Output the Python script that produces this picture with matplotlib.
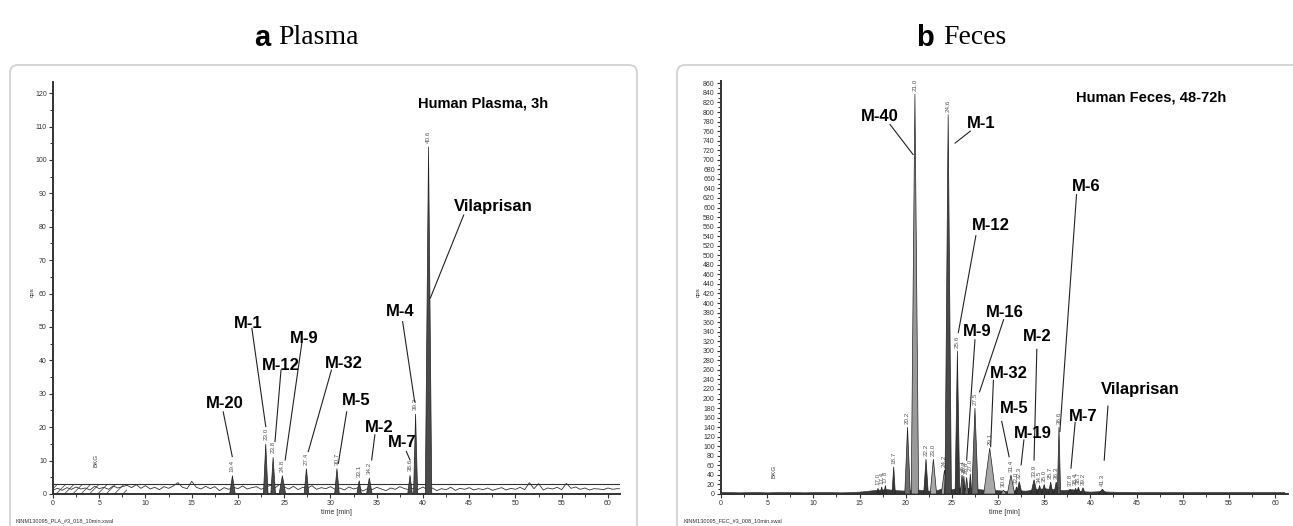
import numpy as np
from matplotlib import pyplot as plt
from matplotlib.patches import FancyBboxPatch
from matplotlib.transforms import IdentityTransform

plt.rcParams['font.family'] = ['Liberation Sans', 'DejaVu Sans']
plt.rcParams['hatch.linewidth'] = 0.6

# ---- panel a: plasma, peaks ----
plasma_rt = [19.4, 23.0, 23.8, 24.8, 27.4, 30.7, 33.1, 34.2, 38.6, 39.2, 40.6]
plasma_height = [5.5, 15.0, 11.0, 5.5, 7.6, 7.6, 4.0, 4.8, 5.6, 24.0, 104.0]
plasma_halfwidth = [0.30, 0.25, 0.25, 0.35, 0.25, 0.25, 0.25, 0.30, 0.25, 0.22, 0.35]

# noisy baseline, one value every 0.5 min
plasma_noise = [1.2, 1.7, 1.1, 1.9, 1.4, 2.1, 1.5, 1.8, 1.2, 2.3, 1.6, 2.0, 1.4, 2.4, 1.8, 2.2, 2.6,
                1.9, 2.8, 1.7, 2.5, 1.5, 2.0, 1.3, 2.2, 1.7, 2.4, 3.4, 2.0, 1.6, 3.8, 2.0, 1.5, 2.3,
                1.6, 2.2, 1.0, 1.9, 1.4, 2.0,
                1.6, 2.4, 1.5, 1.9, 2.2, 1.4, 2.0, 2.6, 1.8, 2.9, 2.1, 1.5, 2.3, 1.3, 2.0, 1.7, 2.5,
                1.4, 1.9,
                1.6, 2.2, 1.4, 1.8, 1.2, 2.1, 1.5, 1.9, 0.9, 1.6, 1.3, 2.0, 1.5, 1.0, 1.8, 1.4, 2.2,
                1.6, 1.3,
                1.7, 1.4, 2.1, 1.2, 1.8, 1.0, 1.6, 1.3, 2.0, 1.1, 1.7, 1.4, 1.9, 1.2, 1.6, 1.3, 1.8,
                1.1, 1.5,
                1.9, 1.2, 1.7, 1.4, 2.0, 1.3, 3.4, 1.6, 3.1, 1.2, 1.8, 1.5, 2.0, 1.3, 3.2, 1.7, 2.1,
                1.4, 1.8, 1.2, 1.6, 1.5, 1.3, 1.8, 1.4, 1.6, 1.5]
noise_step = 0.5

plasma_labels = ['M-20', 'M-1', 'M-12', 'M-9', 'M-32', 'M-5', 'M-2', 'M-7', 'M-4', 'Vilaprisan']
plasma_text_xy = [(18.6, 27.2), (21.1, 51.1), (24.65, 38.6), (27.2, 46.6), (31.4, 39.1),
                  (32.8, 28.1), (35.3, 20.0), (37.8, 15.4), (37.5, 54.6), (47.6, 86.0)]
plasma_line_from = [(18.4, 24.6), (21.5, 49.6), (24.65, 37.1), (26.9, 45.1), (30.1, 37.1),
                    (31.75, 24.6), (34.8, 17.7), (38.2, 12.7), (37.8, 51.6), (44.4, 83.5)]
plasma_line_to = [(19.38, 11.2), (23.0, 20.2), (24.0, 15.7), (25.1, 10.2), (27.6, 12.7),
                  (30.85, 9.2), (34.45, 10.2), (38.6, 10.2), (39.1, 27.6), (40.8, 58.7)]

# ---- panel b: feces ----
feces_rt = [17.0, 17.4, 17.8, 18.7, 20.2, 21.0, 22.2, 23.0, 24.2, 24.4, 24.6, 25.6, 26.1, 26.3,
            26.6, 27.0, 27.5, 29.1, 30.6, 31.4, 32.0, 32.3, 33.9, 34.5, 35.0, 35.7, 36.3, 36.6,
            37.8, 38.4, 38.7, 39.2, 41.3]
feces_height = [12, 15, 18, 57, 140, 838, 73, 73, 50, 80, 795, 300, 40, 38,
                35, 42, 180, 96, 8, 40, 15, 26, 30, 18, 20, 25, 25, 140,
                10, 12, 14, 13, 10]
feces_halfwidth = [0.15, 0.15, 0.15, 0.18, 0.3, 0.4, 0.25, 0.35, 0.35, 0.2, 0.35, 0.25, 0.2, 0.15,
                   0.2, 0.15, 0.35, 0.65, 0.3, 0.4, 0.2, 0.3, 0.35, 0.25, 0.25, 0.25, 0.25, 0.18,
                   0.25, 0.25, 0.25, 0.25, 0.45]
feces_shade = ['#3a3a3a', '#3a3a3a', '#3a3a3a', '#3a3a3a', '#6e6e6e', '#9a9a9a', '#3a3a3a',
               '#a8a8a8', '#a8a8a8', '#6e6e6e', '#4a4a4a', '#3a3a3a', '#6e6e6e', '#3a3a3a',
               '#6e6e6e', '#3a3a3a', '#6e6e6e', '#a8a8a8', '#a8a8a8', '#a8a8a8', '#3a3a3a',
               '#3a3a3a', '#3a3a3a', '#3a3a3a', '#3a3a3a', '#3a3a3a', '#3a3a3a', '#5a5a5a',
               '#3a3a3a', '#3a3a3a', '#3a3a3a', '#3a3a3a', '#3a3a3a']
feces_peak_text = ['17.0', '17.4', '17.8', '18.7', '20.2', '21.0', '22.2', '23.0', '24.2', '',
                   '24.6', '25.6', '26.1', '26.3', '26.6', '27.0', '27.5', '29.1', '30.6', '31.4',
                   '32.0', '32.3', '33.9', '34.5', '35.0', '35.7', '36.3', '36.6', '37.8', '38.4',
                   '38.7', '39.2', '41.3']

# background trace, one value per minute
feces_base = [4, 4, 3.5, 4, 4, 3.5, 4, 4, 4, 3.5, 4, 4, 4, 3.5, 4, 5, 7, 9, 10, 8, 7, 10, 8, 6,
              12, 10, 14, 12, 10, 8, 8, 6, 8, 7, 10, 12, 10, 8, 10, 6, 5, 6, 5, 4.5, 4.5, 4, 4, 4,
              4, 4, 4, 4, 4, 4, 4, 4, 4, 4, 4, 4, 4, 4]

feces_labels = ['M-40', 'M-1', 'M-12', 'M-9', 'M-16', 'M-32', 'M-5', 'M-19', 'M-2', 'M-6',
                'M-7', 'Vilaprisan']
feces_text_xy = [(17.15, 790), (28.2, 776), (29.25, 563), (27.7, 340), (30.7, 380), (31.2, 253),
                 (31.8, 180), (33.8, 127), (34.2, 330), (39.5, 644), (39.2, 163), (45.4, 219)]
feces_line_from = [(18.3, 774), (27.0, 760), (27.6, 541), (27.5, 323), (30.6, 365), (29.5, 238),
                   (30.4, 152), (32.8, 113), (34.2, 303), (38.5, 627), (38.35, 150), (41.9, 184)]
feces_line_to = [(20.8, 711), (25.35, 735), (25.7, 338), (26.6, 71), (28.0, 214), (29.2, 99),
                 (31.2, 78), (32.5, 61), (33.9, 71), (36.7, 131), (37.9, 54), (41.5, 71)]


fig = plt.figure(figsize=(12.93, 5.26), dpi=100)

# rounded grey panel frames (pixel coordinates), kept behind the axes
for x0, w in [(10, 627), (677, 640)]:
    box = FancyBboxPatch((x0, -20), w, 526 - 65 + 20,
                         boxstyle='round,pad=0,rounding_size=8',
                         transform=IdentityTransform(), fc='white', ec='#d2d2d2', lw=1.3,
                         zorder=-10)
    fig.add_artist(box)

# panel titles
fig.text(270 / 1293, 1 - 38 / 526, 'a', ha='right', va='center', fontsize=21,
         fontweight='bold', family='Liberation Sans')
fig.text(278 / 1293, 1 - 38 / 526, 'Plasma', ha='left', va='center', fontsize=20,
         family='Liberation Serif')
fig.text(934 / 1293, 1 - 38 / 526, 'b', ha='right', va='center', fontsize=21,
         fontweight='bold', family='Liberation Sans')
fig.text(943 / 1293, 1 - 38 / 526, 'Feces', ha='left', va='center', fontsize=20,
         family='Liberation Serif')

axL = fig.add_axes([53 / 1293, 32 / 526, 567 / 1293, 412.5 / 526])
axR = fig.add_axes([721 / 1293, 32 / 526, 567 / 1293, 413 / 526])


def style_axis(ax, xmax, ymax, ymajor, yminor):
    ax.set_xlim(0, xmax)
    ax.set_ylim(0, ymax)
    for s in ['top', 'right']:
        ax.spines[s].set_visible(False)
    for s in ['left', 'bottom']:
        ax.spines[s].set_linewidth(1.4)
        ax.spines[s].set_color('#333333')
    ax.set_xticks(np.arange(0, 61, 5))
    ax.set_xticks(np.arange(0, 61.5, 2.5), minor=True)
    ax.set_yticks(np.arange(0, ymax, ymajor))
    ax.set_yticks(np.arange(0, ymax, yminor), minor=True)
    ax.tick_params(which='major', length=3, width=0.8, labelsize=5, colors='#333333', pad=1.5)
    ax.tick_params(which='minor', length=2, width=0.7, colors='#333333')
    ax.set_xlabel('time [min]', fontsize=5, color='#333333', labelpad=1)
    ax.patch.set_alpha(0)


# --- plot panel a ---
style_axis(axL, 61.3, 123.5, 10, 5)
noise_t = np.arange(len(plasma_noise)) * noise_step
axL.plot(noise_t, plasma_noise, color='#333333', lw=0.6, zorder=2)
axL.fill_between([0, 8], 0, 3, facecolor='none', edgecolor='#555555', hatch='////', lw=0)
axL.axhline(3, color='#333333', lw=0.8, zorder=2)
axL.text(4.7, 10, 'BKG', rotation=90, fontsize=4.5, ha='center', va='center', color='#333333')
for rt, h, w in zip(plasma_rt, plasma_height, plasma_halfwidth):
    axL.fill([rt - w, rt, rt + w], [0, h, 0], facecolor='#4a4a4a', edgecolor='#222222',
             lw=0.5, zorder=3)
    axL.text(rt, h + 1.2, f'{rt:.1f}', rotation=90, ha='center', va='bottom', fontsize=4.5,
             color='#555555')
axL.text(-0.037, 0.49, 'cps', rotation=90, fontsize=4.5, ha='center', va='center',
         color='#333333', transform=axL.transAxes)
axL.text(46.5, 117, 'Human Plasma, 3h', fontsize=10.5, fontweight='bold', ha='center',
         va='center')
for lab, txy, p0, p1 in zip(plasma_labels, plasma_text_xy, plasma_line_from, plasma_line_to):
    axL.text(txy[0], txy[1], lab, fontsize=12, fontweight='bold', ha='center', va='center',
             zorder=5)
    axL.plot([p0[0], p1[0]], [p0[1], p1[1]], color='#222222', lw=0.8, zorder=4)

# --- plot panel b ---
style_axis(axR, 61.4, 865, 20, 10)
base_t = np.arange(len(feces_base))
axR.fill_between(base_t, 0, feces_base, color='#3a3a3a', lw=0.5, zorder=2)
axR.text(5.7, 47, 'BKG', rotation=90, fontsize=4.5, ha='center', va='center', color='#333333')
for rt, h, w, c, lab in zip(feces_rt, feces_height, feces_halfwidth, feces_shade,
                            feces_peak_text):
    axR.fill([rt - w, rt, rt + w], [0, h, 0], facecolor=c, edgecolor='#222222', lw=0.5,
             zorder=3)
    if lab:
        axR.text(rt, h + 6, lab, rotation=90, ha='center', va='bottom', fontsize=4.5,
                 color='#555555')
axR.text(-0.04, 0.49, 'cps', rotation=90, fontsize=4.5, ha='center', va='center',
         color='#333333', transform=axR.transAxes)
axR.text(46.6, 830, 'Human Feces, 48-72h', fontsize=10.5, fontweight='bold', ha='center',
         va='center')
for lab, txy, p0, p1 in zip(feces_labels, feces_text_xy, feces_line_from, feces_line_to):
    axR.text(txy[0], txy[1], lab, fontsize=12, fontweight='bold', ha='center', va='center',
             zorder=5)
    axR.plot([p0[0], p1[0]], [p0[1], p1[1]], color='#222222', lw=0.8, zorder=4)

# file names under the traces
fig.text(15 / 1293, 4 / 526, 'KINM130095_PLA_#3_018_10min.xwal', fontsize=4,
         color='#333333')
fig.text(683 / 1293, 4 / 526, 'KINM130095_FEC_#3_008_10min.xwal', fontsize=4,
         color='#333333')

plt.savefig('out.png', dpi=100)
